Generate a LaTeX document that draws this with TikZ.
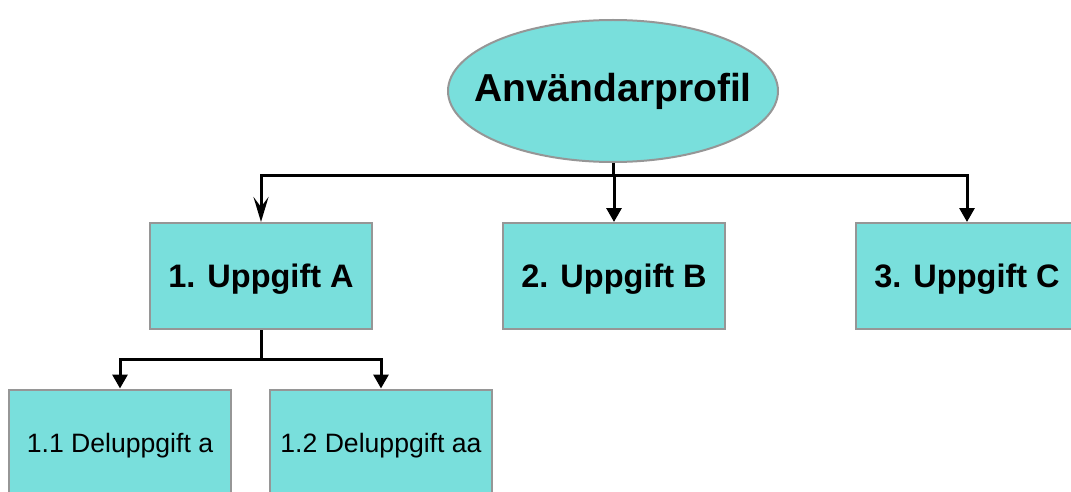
\documentclass[tikz,border=0pt]{standalone}
\usepackage{fontspec}
\setmainfont{Liberation Sans}
\usetikzlibrary{shapes.geometric,arrows.meta}
\definecolor{boxfill}{RGB}{121,223,220}
\definecolor{boxline}{RGB}{150,150,150}
\tikzset{
  topbox/.style={draw=boxline,line width=2pt,fill=boxfill,inner sep=0pt,
    minimum width=222pt,minimum height=106pt,text depth=0pt,
    font=\fontsize{32.5}{38}\selectfont\bfseries},
  subbox/.style={draw=boxline,line width=2pt,fill=boxfill,inner sep=0pt,
    minimum width=222pt,minimum height=107pt,text depth=0pt,
    font=\fontsize{26.6}{31}\selectfont},
  rootnode/.style={ellipse,draw=boxline,line width=2pt,fill=boxfill,inner sep=0pt,
    minimum width=330pt,minimum height=142pt,
    font=\fontsize{39}{45}\selectfont\bfseries},
  conn/.style={line width=3pt,draw=black},
  tri/.style={conn,-{Triangle[length=14pt,width=15pt]}},
  stl/.style={conn,-{Stealth[length=25pt,width=15pt,inset=10pt]}},
}
\begin{document}
\begin{tikzpicture}[x=1pt,y=-1pt]
\useasboundingbox (0,0) rectangle (1071,492);
\clip (0,0) rectangle (1071,492);
\node[rootnode] (root) at (613,91) {\makebox[0pt]{Användarprofil}};
\node[topbox] (A) at (261,276) {1. Uppgift A};
\node[topbox] (B) at (614,276) {2. Uppgift B};
\node[topbox] (C) at (967,276) {3. Uppgift C};
\node[subbox] (A1) at (120,443) {1.1 Deluppgift a};
\node[subbox] (A2) at (381,443) {1.2 Deluppgift aa};
\coordinate (j) at (614,175);
\coordinate (k) at (261,359);
\draw[conn] (root.south) -- (root.south |- j);
\draw[stl] (j) -| (A.north);
\draw[tri] (j) -- (B.north);
\draw[tri] (j) -| (C.north);
\draw[conn] (A.south) -- (k);
\draw[tri] (k) -| (A1.north);
\draw[tri] (k) -| (A2.north);
\end{tikzpicture}
\end{document}
